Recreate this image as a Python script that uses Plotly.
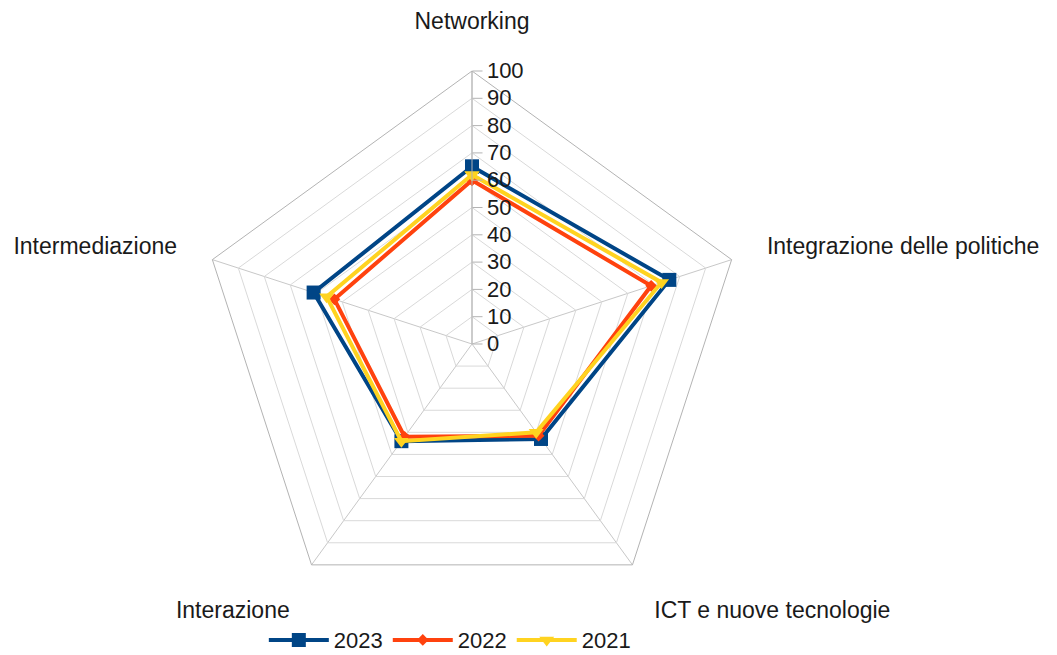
import plotly.graph_objects as go

categories = ["Networking", "Integrazione delle politiche", "ICT e nuove tecnologie",
              "Interazione", "Intermediazione"]
v2023 = [65, 76, 43, 44, 61]
v2022 = [60, 69, 41.5, 42, 53]
v2021 = [62, 73, 40, 44, 56]
tick_vals = [0, 10, 20, 30, 40, 50, 60, 70, 80, 90, 100]

series = [
    ("2023", v2023, "#004586", "square", 14),
    ("2022", v2022, "#ff420e", "diamond", 9),
    ("2021", v2021, "#ffd320", "triangle-down", 13),
]

fig = go.Figure()
for name, vals, color, sym, size in series:
    fig.add_trace(go.Scatterpolar(
        r=vals + vals[:1],
        theta=categories + categories[:1],
        name=name,
        mode="lines+markers",
        line=dict(color=color, width=4),
        marker=dict(symbol=sym, size=size, color=color),
    ))

W, H = 1057, 655
cx, cy, R = 464, 336, 273
fig.update_layout(
    width=W, height=H,
    margin=dict(l=0, r=0, t=0, b=0),
    paper_bgcolor="white",
    font=dict(family="Liberation Sans, Arial, sans-serif", size=23, color="#1a1a1a"),
    polar=dict(
        domain=dict(x=[(cx - R) / W, (cx + R) / W], y=[(H - cy - R) / H, (H - cy + R) / H]),
        gridshape="linear",
        bgcolor="white",
        radialaxis=dict(
            range=[0, 100], tickvals=tick_vals, ticktext=[str(t) for t in tick_vals],
            angle=90, tickangle=90, side="clockwise",
            showline=True, linecolor="#b3b3b3", linewidth=1,
            gridcolor="#d9d9d9", gridwidth=1,
            ticks="outside", ticklen=10, tickcolor="#b3b3b3",
            tickfont=dict(size=22, color="#1a1a1a"),
        ),
        angularaxis=dict(
            rotation=90, direction="clockwise",
            showline=True, linecolor="#b3b3b3", linewidth=1,
            gridcolor="#c8c8c8", gridwidth=1,
            ticks="outside", ticklen=32, tickcolor="rgba(0,0,0,0)",
            tickfont=dict(size=23, color="#1a1a1a"),
        ),
    ),
    legend=dict(
        orientation="h", x=0.418, xanchor="center", y=0.035, yanchor="middle",
        font=dict(size=22, color="#1a1a1a"), itemwidth=60,
    ),
    showlegend=True,
)

fig.write_html("out.html")
